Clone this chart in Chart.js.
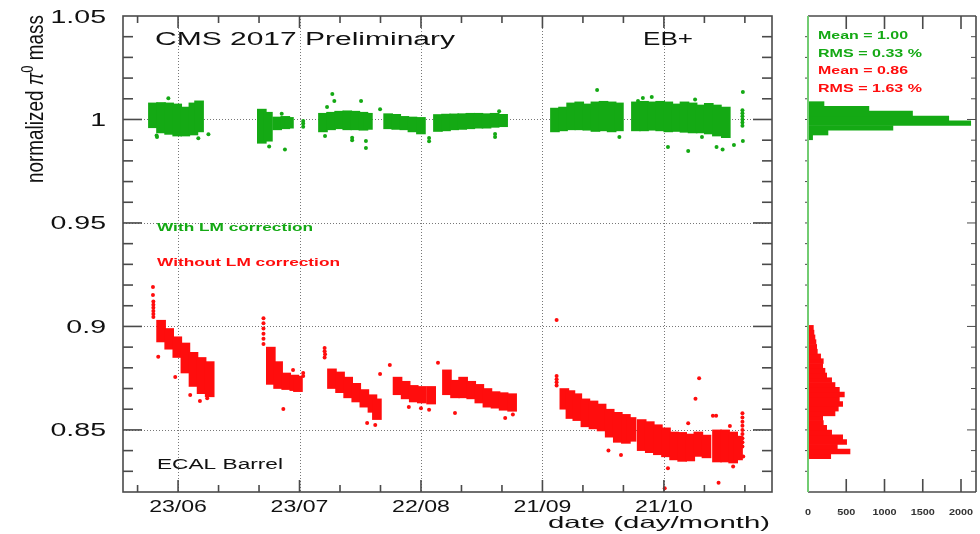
<!DOCTYPE html>
<html>
<head>
<meta charset="utf-8">
<script src="https://cdn.jsdelivr.net/npm/chart.js@4.4.0/dist/chart.umd.min.js"></script>
<style>
  html, body { margin: 0; padding: 0; background: #fff; }
  #wrap { position: relative; width: 980px; height: 534px; }
  #wrap canvas { position: absolute; left: 0; top: 0; }
</style>
</head>
<body>
<div id="wrap">
  <canvas id="main" width="980" height="534"></canvas>
  <canvas id="hist" width="980" height="534"></canvas>
</div>
<script>
// axis labels ---------------------------------------------
const xLabelDays = [0, 30, 60, 90, 120];          // days after 23/06
const xLabels = ['23/06', '23/07', '22/08', '21/09', '21/10'];
const yLabelValues = [0.85, 0.9, 0.95, 1, 1.05];
const histTickValues = [0, 500, 1000, 1500, 2000];

// with LM correction : bands (day, low, high) read per ~2 days
const greenDays = [-5.1, -3.1, -1.1, 0.9, 2.9, 4.9, 6.3,
  21.8, 23.3, 25.6, 27.6, 28.5,
  36.9, 38.9, 40.9, 42.9, 44.9, 46.9, 48.0,
  53.0, 55.0, 57.0, 59.0, 61.1,
  65.3, 67.3, 69.3, 71.3, 73.3, 75.3, 77.3, 79.3, 81.4,
  94.2, 96.2, 98.2, 100.2, 102.2, 104.2, 106.2, 108.2, 110.0, 114.2, 116.2, 118.2,
  120.2, 122.2, 124.2, 126.2, 128.2, 130.2, 132.2, 134.2, 136.4];
const greenLow = [0.9960, 0.9935, 0.9928, 0.9920, 0.9920, 0.9925, 0.9940,
  0.9885, 0.9895, 0.9950, 0.9955, 0.9958,
  0.9940, 0.9950, 0.9955, 0.9950, 0.9950, 0.9948, 0.9952,
  0.9955, 0.9952, 0.9950, 0.9940, 0.9930,
  0.9942, 0.9945, 0.9950, 0.9952, 0.9955, 0.9958, 0.9958, 0.9962, 0.9965,
  0.9940, 0.9945, 0.9950, 0.9950, 0.9948, 0.9942, 0.9945, 0.9940, 0.9945, 0.9945, 0.9945, 0.9948,
  0.9945, 0.9940, 0.9942, 0.9938, 0.9935, 0.9935, 0.9930, 0.9920, 0.9912];
const greenHigh = [1.0080, 1.0082, 1.0080, 1.0075, 1.0060, 1.0080, 1.0090,
  1.0050, 1.0035, 1.0012, 1.0015, 1.0010,
  1.0030, 1.0035, 1.0040, 1.0042, 1.0040, 1.0035, 1.0030,
  1.0028, 1.0025, 1.0015, 1.0012, 1.0010,
  1.0024, 1.0026, 1.0027, 1.0028, 1.0030, 1.0030, 1.0028, 1.0030, 1.0025,
  1.0055, 1.0060, 1.0080, 1.0085, 1.0075, 1.0085, 1.0088, 1.0085, 1.0080, 1.0085, 1.0088, 1.0085,
  1.0088, 1.0085, 1.0075, 1.0085, 1.0080, 1.0070, 1.0078, 1.0070, 1.0060];

// without LM correction : bands
const redDays = [-5.3, -3.3, -1.3, 0.7, 2.7, 4.7, 6.7,
  21.8, 23.6, 25.6, 27.6, 28.5,
  36.9, 38.9, 40.9, 42.9, 44.9, 46.9, 48.0,
  53.1, 55.1, 57.1, 59.1, 61.4,
  65.3, 67.3, 69.3, 71.3, 73.3, 75.3, 77.3, 79.3, 81.4,
  94.3, 95.8, 97.5, 99.5, 101.5, 103.5, 105.5, 107.5, 109.5, 110.9, 113.4, 115.4, 117.4,
  119.4, 121.4, 123.4, 125.4, 127.4, 129.4, 132.0, 134.0, 136.0, 137.2];
const redLow = [0.8925, 0.8890, 0.8850, 0.8775, 0.8710, 0.8675, 0.8660,
  0.8720, 0.8700, 0.8695, 0.8690, 0.8685,
  0.8700, 0.8680, 0.8655, 0.8635, 0.8610, 0.8585, 0.8550,
  0.8670, 0.8650, 0.8635, 0.8630, 0.8625,
  0.8670, 0.8655, 0.8655, 0.8650, 0.8630, 0.8610, 0.8605, 0.8595, 0.8590,
  0.8600, 0.8555, 0.8545, 0.8515, 0.8505, 0.8495, 0.8465, 0.8440, 0.8435, 0.8445, 0.8400, 0.8390, 0.8380,
  0.8370, 0.8355, 0.8348, 0.8350, 0.8372, 0.8365, 0.8345, 0.8345, 0.8340, 0.8355];
const redHigh = [0.9030, 0.8990, 0.8950, 0.8920, 0.8875, 0.8850, 0.8830,
  0.8900, 0.8830, 0.8775, 0.8765, 0.8760,
  0.8795, 0.8780, 0.8755, 0.8725, 0.8695, 0.8670, 0.8650,
  0.8755, 0.8735, 0.8715, 0.8710, 0.8710,
  0.8790, 0.8740, 0.8755, 0.8735, 0.8720, 0.8700, 0.8685, 0.8680, 0.8675,
  0.8700, 0.8690, 0.8675, 0.8650, 0.8640, 0.8625, 0.8600, 0.8585, 0.8575, 0.8560, 0.8550, 0.8540, 0.8525,
  0.8510, 0.8490, 0.8488, 0.8480, 0.8490, 0.8475, 0.8500, 0.8500, 0.8490, 0.8470];

// single points outside the bands
const greenDotDays = [-5.3, -2.4, 5.0, 7.5, -5.2,
  22.5, 26.4, 25.6, 30.9, 30.9, 30.9,
  38.1, 38.6, 45.2, 49.9, 36.3, 36.8, 43.0, 43.0, 46.4, 46.4,
  62.0, 62.0, 79.3, 78.3, 78.3,
  103.5, 109.0, 113.6, 114.8, 117.0, 121.0, 126.0, 127.7, 133.0, 134.5, 137.3, 139.5, 139.5, 129.4,
  139.4, 139.4, 139.4, 139.4, 139.4, 139.4];
const greenDotVals = [0.9922, 1.0102, 0.9909, 0.9929, 0.9915,
  0.9870, 0.9855, 1.0028, 0.9965, 0.9980, 0.9993,
  1.0123, 1.0089, 1.0089, 1.0050, 0.9920, 1.0060, 0.9900, 0.9912, 0.9896, 0.9862,
  0.9910, 0.9895, 1.0040, 0.9915, 0.9930,
  1.0143, 0.9915, 1.0089, 1.0104, 1.0109, 0.9867, 0.9848, 1.0096, 0.9867, 0.9855, 0.9877, 0.9896, 1.0133, 0.9915,
  0.9970, 0.9985, 1.0000, 1.0015, 1.0030, 1.0045];
const redDotDays = [-6.1, -6.1, -6.1, -6.1, -6.1, -6.1, -6.2, -6.2,
  -4.9, -0.7, 3.0, 5.4, 7.2,
  21.1, 21.1, 21.1, 21.1, 21.1, 21.1, 26.0, 28.4, 30.9, 30.9,
  36.2, 36.2, 36.3, 36.2, 46.7, 48.7, 49.9,
  52.3, 57.0, 60.0, 62.0, 64.2, 68.4, 80.8, 82.7,
  93.5, 93.5, 93.5, 93.5, 93.5,
  106.3, 109.4, 110.4, 120.2, 121.0, 126.0, 127.8, 128.7, 132.1, 132.9, 133.5, 136.3, 137.1, 139.6,
  139.4, 139.4, 139.4, 139.4, 139.4, 139.4, 139.4, 139.4, 139.4];
const redDotVals = [0.9045, 0.9060, 0.9075, 0.9090, 0.9105, 0.9120, 0.9152, 0.9190,
  0.8854, 0.8756, 0.8669, 0.8640, 0.8653,
  0.8915, 0.8940, 0.8965, 0.8990, 0.9015, 0.9040, 0.8601, 0.8790, 0.8760, 0.8775,
  0.8896, 0.8880, 0.8865, 0.8850, 0.8534, 0.8524, 0.8770,
  0.8814, 0.8611, 0.8605, 0.8597, 0.8824, 0.8582, 0.8558, 0.8575,
  0.9031, 0.8715, 0.8730, 0.8745, 0.8760,
  0.8400, 0.8379, 0.8557, 0.8218, 0.8315, 0.8532, 0.8650, 0.8750, 0.8568, 0.8568, 0.8245, 0.8519, 0.8323, 0.8371,
  0.8420, 0.8440, 0.8460, 0.8480, 0.8500, 0.8520, 0.8540, 0.8560, 0.8580];

// projections (100 bins between 0.82 and 1.05)
const histStart = 0.82;
const histBin = 0.0023;
const greenHistFirstBin = 74;
const greenHist = [60, 261, 1110, 2127, 1840, 1366, 796, 209];
const redHistFirstBin = 7;
const redHist = [297, 549, 383, 505, 453, 309, 244, 200, 192, 353, 396, 453, 410, 475,
  410, 353, 309, 244, 222, 192, 200, 165, 122, 113, 104, 91, 78, 70];

const GREEN = '#14a914';
const RED = '#ff0d0d';
const FONT = '"Liberation Sans", Arial, Helvetica, sans-serif';

// text helper, stretched horizontally like the original picture
function label(ctx, str, x, y, o) {
  ctx.save();
  ctx.font = (o.weight || 'normal') + ' ' + o.size + 'px ' + FONT;
  const w0 = ctx.measureText(str).width;
  const sx = o.width ? o.width / w0 : (o.sx || 1);
  const w = w0 * sx;
  let x0 = x;
  if (o.align === 'right') x0 = x - w;
  else if (o.align === 'center') x0 = x - w / 2;
  ctx.translate(x0, y);
  ctx.scale(sx, 1);
  ctx.fillStyle = o.color || '#111';
  ctx.textAlign = 'left';
  ctx.textBaseline = 'alphabetic';
  ctx.fillText(str, 0, 0);
  ctx.restore();
}

function seg(ctx, x1, y1, x2, y2) {
  ctx.beginPath();
  ctx.moveTo(x1, y1);
  ctx.lineTo(x2, y2);
  ctx.stroke();
}

// main panel decorations ------------------------------------------
const mainDecor = {
  id: 'mainDecor',
  beforeDatasetsDraw(chart) {
    const { ctx, chartArea: a, scales: { x, y } } = chart;
    ctx.save();
    ctx.strokeStyle = '#777';
    ctx.lineWidth = 1;
    ctx.setLineDash([1, 2]);
    xLabelDays.forEach(d => {
      const px = Math.round(x.getPixelForValue(d)) + 0.5;
      seg(ctx, px, a.top, px, a.bottom);
    });
    yLabelValues.forEach(v => {
      if (v > 1.04) return;
      const py = Math.round(y.getPixelForValue(v)) + 0.5;
      seg(ctx, a.left, py, a.right, py);
    });
    ctx.restore();
  },
  afterDatasetsDraw(chart) {
    const { ctx, chartArea: a, scales: { x, y } } = chart;
    ctx.save();
    ctx.strokeStyle = '#4a4a4a';
    ctx.lineWidth = 1.6;
    ctx.strokeRect(a.left, a.top, a.right - a.left, a.bottom - a.top);

    // x ticks every 10 days, inside, top and bottom
    for (let d = -10; d <= 140; d += 10) {
      const px = x.getPixelForValue(d);
      const len = xLabelDays.includes(d) ? 12 : 7;
      seg(ctx, px, a.bottom, px, a.bottom - len);
      seg(ctx, px, a.top, px, a.top + len);
    }
    // y ticks every 0.01, inside, left and right
    for (let i = 83; i <= 104; i++) {
      const py = y.getPixelForValue(i / 100);
      const len = i % 5 === 0 ? 19 : 10;
      seg(ctx, a.left, py, a.left + len, py);
      seg(ctx, a.right, py, a.right - len, py);
    }
    ctx.restore();

    yLabelValues.forEach(v => {
      label(ctx, String(v), 106, y.getPixelForValue(v) + 6.5, { size: 17.5, sx: 1.63, align: 'right' });
    });
    xLabelDays.forEach((d, i) => {
      label(ctx, xLabels[i], x.getPixelForValue(d), 512, { size: 16.5, sx: 1.4, align: 'center' });
    });
    label(ctx, 'date (day/month)', 770, 528, { size: 16.5, width: 222, align: 'right' });
    label(ctx, 'CMS 2017 Preliminary', 155, 45, { size: 18, width: 300 });
    label(ctx, 'EB+', 643, 45, { size: 18, width: 50 });
    label(ctx, 'With LM correction', 157, 231, { size: 11.5, weight: 'bold', width: 156, color: GREEN });
    label(ctx, 'Without LM correction', 157, 266, { size: 11.5, weight: 'bold', width: 183, color: RED });
    label(ctx, 'ECAL Barrel', 157, 469, { size: 15.5, width: 126 });

    // y title, rotated
    ctx.save();
    ctx.translate(43, 183);
    ctx.rotate(-Math.PI / 2);
    ctx.font = '16px ' + FONT;
    const p1 = 'normalized ', p4 = ' mass';
    const w1 = ctx.measureText(p1).width;
    ctx.font = 'italic 16px ' + FONT;
    const w2 = ctx.measureText('π').width;
    ctx.font = '11px ' + FONT;
    const w3 = ctx.measureText('0').width;
    ctx.font = '16px ' + FONT;
    const w4 = ctx.measureText(p4).width;
    const kx = 168 / (w1 + w2 + w3 + w4);
    ctx.scale(kx, 1.45);
    ctx.fillStyle = '#111';
    ctx.fillText(p1, 0, 0);
    ctx.font = 'italic 16px ' + FONT;
    ctx.fillText('π', w1, 0);
    ctx.font = '11px ' + FONT;
    ctx.fillText('0', w1 + w2, -7);
    ctx.font = '16px ' + FONT;
    ctx.fillText(p4, w1 + w2 + w3, 0);
    ctx.restore();
  }
};

// histogram panel decorations ---------------------------------------
const histDecor = {
  id: 'histDecor',
  afterDatasetsDraw(chart) {
    const { ctx, chartArea: a, scales: { x, y } } = chart;
    ctx.save();
    ctx.strokeStyle = '#4a4a4a';
    ctx.lineWidth = 1.6;
    seg(ctx, a.left, a.top, a.right, a.top);
    seg(ctx, a.left, a.bottom, a.right, a.bottom);
    seg(ctx, a.right, a.top, a.right, a.bottom);
    histTickValues.forEach(v => {
      const px = x.getPixelForValue(v);
      seg(ctx, px, a.top, px, a.top + 13);
      seg(ctx, px, a.bottom, px, a.bottom - 13);
    });
    ctx.lineWidth = 1;
    for (let i = 83; i <= 104; i++) {
      const py = y.getPixelForValue(i / 100);
      const len = i % 5 === 0 ? 9 : 5;
      seg(ctx, a.right, py, a.right - len, py);
      seg(ctx, a.left - 3, py, a.left, py);
    }
    ctx.strokeStyle = '#72cc72';
    ctx.lineWidth = 2;
    seg(ctx, a.left, a.top, a.left, a.bottom);
    ctx.restore();

    histTickValues.forEach(v => {
      label(ctx, String(v), x.getPixelForValue(v), 515, { size: 8.5, weight: 'bold', sx: 1.28, align: 'center', color: '#333' });
    });
    label(ctx, 'Mean = 1.00', 818, 39, { size: 11, weight: 'bold', width: 90, color: GREEN });
    label(ctx, 'RMS = 0.33 %', 818, 57, { size: 11, weight: 'bold', width: 104, color: GREEN });
    label(ctx, 'Mean = 0.86', 818, 74, { size: 11, weight: 'bold', width: 90, color: RED });
    label(ctx, 'RMS = 1.63 %', 818, 92, { size: 11, weight: 'bold', width: 104, color: RED });
  }
};

// main scatter chart ------------------------------------------------
const greenBands = greenDays.map((d, i) => ({ x: d, y: [greenLow[i], greenHigh[i]] }));
const redBands = redDays.map((d, i) => ({ x: d, y: [redLow[i], redHigh[i]] }));
const greenDots = greenDotDays.map((d, i) => ({ x: d, y: greenDotVals[i] }));
const redDots = redDotDays.map((d, i) => ({ x: d, y: redDotVals[i] }));

new Chart(document.getElementById('main'), {
  type: 'bar',
  data: {
    datasets: [
      { type: 'bar', data: greenBands, backgroundColor: GREEN, barThickness: 9, borderWidth: 0, xAxisID: 'x' },
      { type: 'bar', data: redBands, backgroundColor: RED, barThickness: 9, borderWidth: 0, xAxisID: 'x2' },
      { type: 'scatter', data: greenDots, backgroundColor: GREEN, pointRadius: 2, borderWidth: 0, xAxisID: 'x' },
      { type: 'scatter', data: redDots, backgroundColor: RED, pointRadius: 2, borderWidth: 0, xAxisID: 'x' }
    ]
  },
  options: {
    responsive: false,
    animation: false,
    events: [],
    layout: { padding: { left: 123, top: 16, right: 208, bottom: 42 } },
    plugins: { legend: { display: false }, tooltip: { enabled: false } },
    scales: {
      x: { type: 'linear', min: -13.6, max: 146.7, offset: false, display: false },
      x2: { type: 'linear', min: -13.6, max: 146.7, offset: false, display: false },
      y: { type: 'linear', min: 0.82, max: 1.05, display: false }
    }
  },
  plugins: [mainDecor]
});

// projection histogram -----------------------------------------------
const greenHistData = greenHist.map((c, i) => ({ x: c, y: histStart + histBin * (greenHistFirstBin + i + 0.5) }));
const redHistData = redHist.map((c, i) => ({ x: c, y: histStart + histBin * (redHistFirstBin + i + 0.5) }));

new Chart(document.getElementById('hist'), {
  type: 'bar',
  data: {
    datasets: [
      { data: greenHistData, backgroundColor: GREEN, borderWidth: 0 },
      { data: redHistData, backgroundColor: RED, borderWidth: 0 }
    ]
  },
  options: {
    indexAxis: 'y',
    responsive: false,
    animation: false,
    events: [],
    grouped: false,
    barPercentage: 1,
    categoryPercentage: 1,
    layout: { padding: { left: 808, top: 16, right: 4, bottom: 42 } },
    plugins: { legend: { display: false }, tooltip: { enabled: false } },
    scales: {
      x: { type: 'linear', min: 0, max: 2196, display: false },
      y: { type: 'linear', min: 0.82, max: 1.05, offset: false, display: false }
    }
  },
  plugins: [histDecor]
});
</script>
</body>
</html>
